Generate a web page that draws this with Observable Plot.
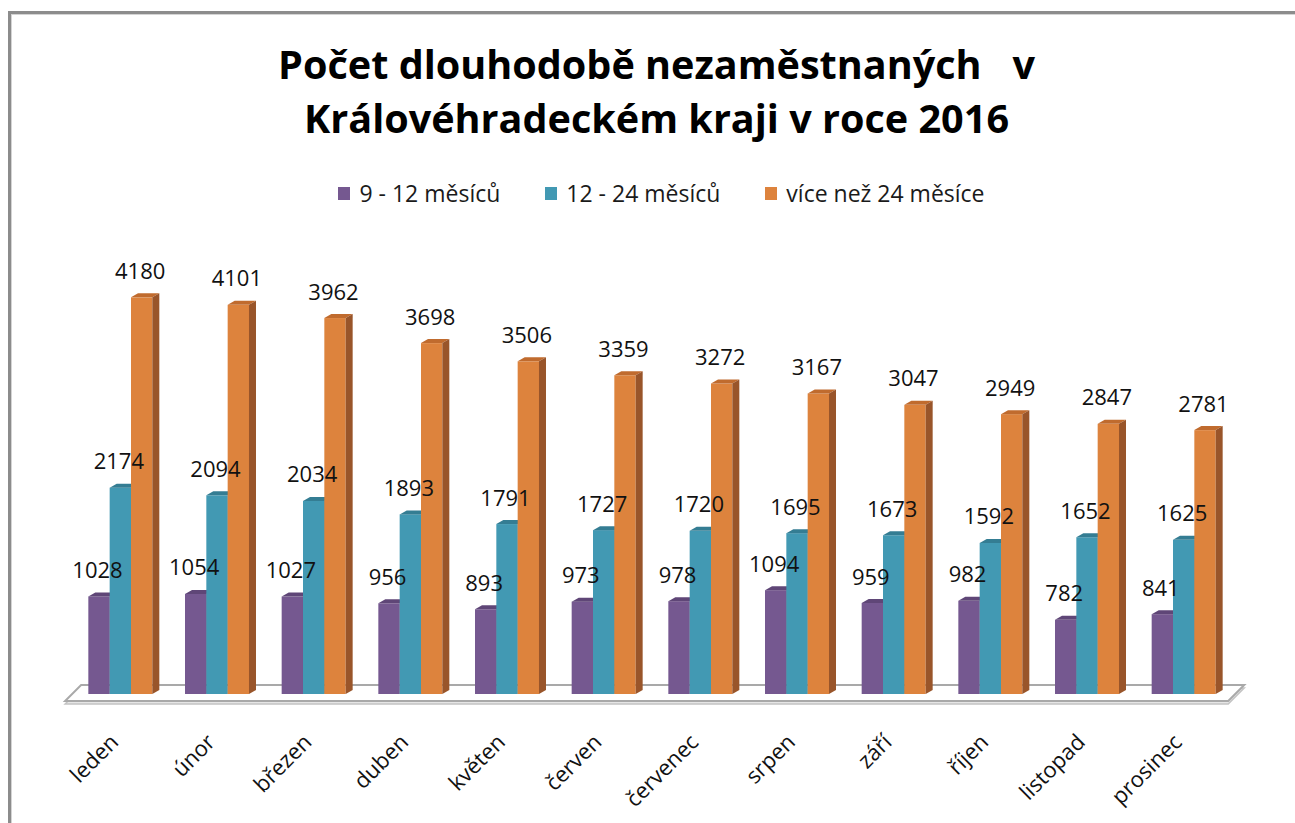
<!DOCTYPE html>
<html><head><meta charset="utf-8">
<script src="https://cdn.jsdelivr.net/npm/d3@7"></script>
<script src="https://cdn.jsdelivr.net/npm/@observablehq/plot@0.6"></script>
<style>
body{margin:0;background:#fff;font-family:"Open Sans",Lato,sans-serif;}
#wrap{position:relative;width:1295px;height:823px;overflow:hidden;background:#fff;}
#frame{position:absolute;left:8px;top:11px;width:1400px;height:1000px;border-left:3px solid #8c8c8c;border-top:3px solid #8c8c8c;box-shadow:inset 1px 1px 0 #d4d4d4;}
#title{position:absolute;left:0;top:37px;width:1313px;text-align:center;font-weight:700;font-size:39.6px;line-height:54px;white-space:pre;color:#000;}
#legend{position:absolute;top:180px;left:0;width:1323px;display:flex;justify-content:center;gap:45px;font-size:23px;line-height:26px;color:#1a1a1a;}
#legend .it{display:flex;align-items:center;gap:9px;}
#legend .sw{width:12px;height:13px;display:inline-block;}
#chart{position:absolute;left:0;top:230px;}
</style></head>
<body>
<div id="wrap">
  <div id="frame"></div>
  <div id="title"></div>
  <div id="legend"></div>
  <div id="chart"></div>
</div>
<script>
const titleLines = ["Počet dlouhodobě nezaměstnaných   v", "Královéhradeckém kraji v roce 2016"];
const months = ["leden","únor","březen","duben","květen","červen","červenec","srpen","září","říjen","listopad","prosinec"];
const seriesNames = ["9 - 12 měsíců","12 - 24 měsíců","více než 24 měsíce"];
const v912 = [1028,1054,1027,956,893,973,978,1094,959,982,782,841];
const v1224 = [2174,2094,2034,1893,1791,1727,1720,1695,1673,1592,1652,1625];
const v24 = [4180,4101,3962,3698,3506,3359,3272,3167,3047,2949,2847,2781];
const frontColors = ["#755890","#4299b3","#dd833d"];
const topColors = ["#5f4677","#347d93","#c06b2e"];
const sideColors = ["#57406d","#2d6d80","#99552a"];

document.getElementById("title").innerHTML = titleLines.map(t => `<div>${t}</div>`).join("");
document.getElementById("legend").innerHTML = seriesNames.map((s,i) =>
  `<span class="it"><span class="sw" style="background:${frontColors[i]}"></span><span>${s}</span></span>`).join("");

const values = [v912, v1224, v24];
const data = [];
values.forEach((arr, si) => arr.forEach((v, mi) => data.push({month: months[mi], series: seriesNames[si], si, value: v})));

const base = {
  width: 1295, height: 593,
  marginTop: 37, marginBottom: 129, marginLeft: 40, marginRight: 31,
  x: {domain: months, paddingInner: 0.338, paddingOuter: 0.5, round: false, axis: null},
  y: {domain: [0, 4500], axis: null},
  style: {fontFamily: "'Open Sans', Lato, sans-serif", background: "transparent", overflow: "visible"}
};
const probe = Plot.plot({...base, marks: [Plot.barY(data, {x: "month", y: "value"})]});
const px = probe.scale("x"), py = probe.scale("y");
const bw = px.bandwidth;
const w = bw / 3;
const DX = 7, DY = -4;

function getScales(scales) {
  const X = scales && typeof scales.x === "function" ? scales.x : px.apply;
  const Y = scales && typeof scales.y === "function" ? scales.y : py.apply;
  return [X, Y];
}

function facesMark(si) {
  return (index, scales) => {
    const [X, Y] = getScales(scales);
    const g = d3.create("svg:g");
    values[si].forEach((v, mi) => {
      const x0 = X(months[mi]) + si * w, x1 = x0 + w;
      const yt = Y(v), yb = Y(0);
      g.append("polygon").attr("fill", topColors[si])
        .attr("points", [[x0, yt], [x0 + DX, yt + DY], [x1 + DX, yt + DY], [x1, yt]].map(p => p.join(",")).join(" "));
      g.append("polygon").attr("fill", sideColors[si])
        .attr("points", [[x1, yt], [x1 + DX, yt + DY], [x1 + DX, yb + DY], [x1, yb]].map(p => p.join(",")).join(" "));
    });
    return g.node();
  };
}

function floorMark(index, scales) {
  const [X, Y] = getScales(scales);
  const step = X(months[1]) - X(months[0]);
  const left = X(months[0]) - 0.24 * step;
  const right = X(months[months.length - 1]) + bw + 0.13 * step;
  const y0 = Y(0);
  const yf = y0 + 7, yb = y0 - 9, off = 16;
  const pts = (dy) => [[left, yf + dy], [left + off, yb + dy], [right + off, yb + dy], [right, yf + dy]].map(p => p.join(",")).join(" ");
  const g = d3.create("svg:g");
  g.append("polygon").attr("points", pts(3)).attr("fill", "#e6e6e6").attr("stroke", "#c4c4c4").attr("stroke-width", 1.5);
  g.append("polygon").attr("points", pts(0)).attr("fill", "#ffffff").attr("stroke", "#a9a9a9").attr("stroke-width", 2);
  return g.node();
}

const marks = [floorMark];
[0, 1, 2].forEach(si => {
  marks.push(Plot.barY(data.filter(d => d.si === si), {
    x: "month", y: "value", fill: frontColors[si],
    insetLeft: si * w, insetRight: (2 - si) * w
  }));
  marks.push(facesMark(si));
});
[0, 1, 2].forEach(si => {
  marks.push(Plot.text(data.filter(d => d.si === si), {
    x: "month", y: "value", text: d => String(d.value),
    dx: (si - 1) * w - 2, dy: -19, lineAnchor: "bottom", textAnchor: "middle",
    fontSize: 22, fill: "#111"
  }));
});
marks.push(Plot.text(months, {
  x: d => d, frameAnchor: "bottom", text: d => d, rotate: -45, textAnchor: "end",
  lineAnchor: "middle", dx: -6, dy: 44, fontSize: 22, fill: "#111"
}));

const chart = Plot.plot({...base, marks});
document.getElementById("chart").appendChild(chart);
</script>
</body></html>
